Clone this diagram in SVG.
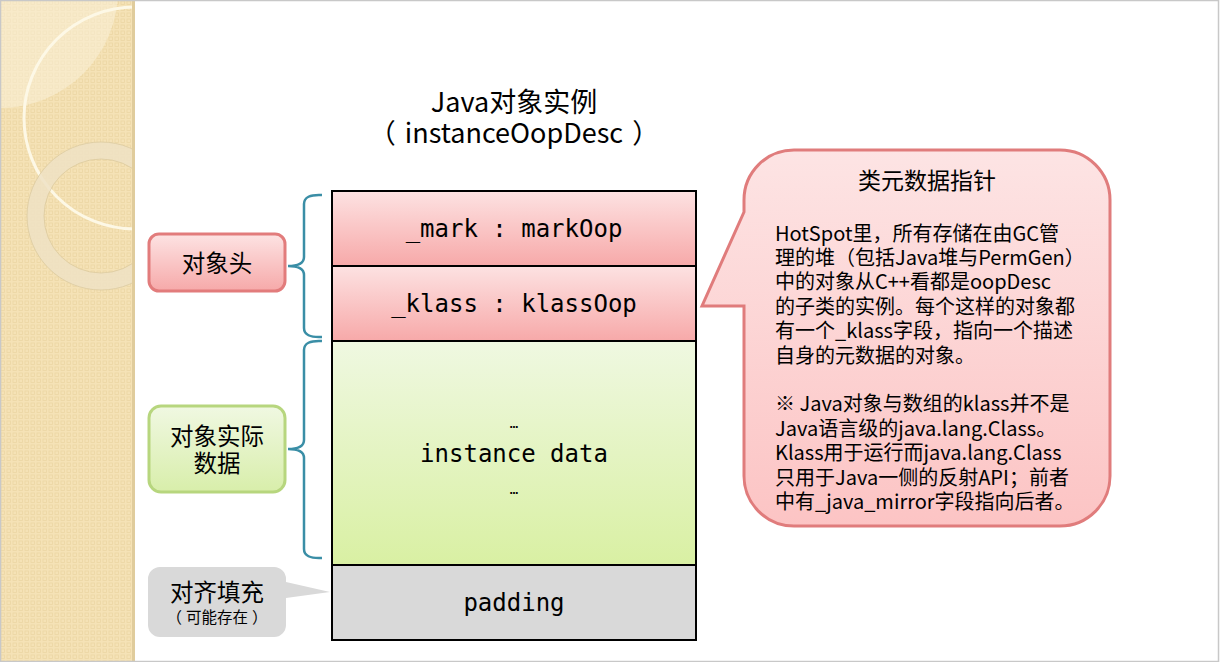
<svg xmlns="http://www.w3.org/2000/svg" width="1220" height="662" viewBox="0 0 1220 662">
<style>
.cjk{font-family:"Noto Sans CJK SC","Noto Sans",sans-serif;fill:#000}
.mono{font-family:"DejaVu Sans Mono","Liberation Mono",monospace;font-size:24px;fill:#000}
.dots{font-family:"DejaVu Sans Mono","Liberation Mono",monospace;font-size:14px;fill:#000}
.row{stroke:#000;stroke-width:2}
.brace{fill:none;stroke:#3a8ea6;stroke-width:2.5}
</style>
<defs>
<pattern id="chk" width="6" height="6" patternUnits="userSpaceOnUse">
<rect width="6" height="6" fill="#f5e2b6"/>
<rect x="1" y="1" width="3.5" height="3.5" fill="none" stroke="#ecd6a3" stroke-width="0.8"/>
</pattern>
<linearGradient id="gPink" x1="0" y1="0" x2="0" y2="1"><stop offset="0" stop-color="#fde2e2"/><stop offset="1" stop-color="#f7a9a9"/></linearGradient>
<linearGradient id="gGreen" x1="0" y1="0" x2="0" y2="1"><stop offset="0" stop-color="#eff8e1"/><stop offset="1" stop-color="#d9f0a3"/></linearGradient>
<linearGradient id="gLPink" x1="0" y1="0" x2="0" y2="1"><stop offset="0" stop-color="#fde3e3"/><stop offset="1" stop-color="#f6a9a9"/></linearGradient>
<linearGradient id="gLGreen" x1="0" y1="0" x2="0" y2="1"><stop offset="0" stop-color="#f0f8e2"/><stop offset="1" stop-color="#d8eeaa"/></linearGradient>
<linearGradient id="gCall" x1="0" y1="0" x2="0" y2="1"><stop offset="0" stop-color="#fde4e4"/><stop offset="1" stop-color="#fcc4c4"/></linearGradient>
<clipPath id="stripClip"><rect x="0" y="0" width="135" height="662"/></clipPath>
</defs>
<rect width="1220" height="662" fill="#fff"/>
<g id="strip" clip-path="url(#stripClip)">
<rect x="0" y="0" width="135" height="662" fill="url(#chk)"/>
<circle cx="0" cy="-10" r="118" fill="#faf0d8" opacity="0.55"/>
<circle cx="135" cy="118" r="111" fill="none" stroke="#fdf8e6" stroke-width="3"/>
<circle cx="101" cy="216" r="65.5" fill="none" stroke="#efe2c4" stroke-width="17" opacity="0.85"/>
<circle cx="101" cy="216" r="74" fill="none" stroke="#dccaa0" stroke-width="0.8"/>
<circle cx="101" cy="216" r="57" fill="none" stroke="#dccaa0" stroke-width="0.8"/>
<rect x="132" y="0" width="3" height="662" fill="#e0cc9c"/>
</g>
<rect x="0.5" y="0.5" width="1218" height="661" fill="none" stroke="#c8c8c8" stroke-width="1.5"/>
<g id="title">
<text class="cjk" x="514" y="112" font-size="27" text-anchor="middle">Java对象实例</text>
<text class="cjk" x="514" y="143" font-size="27" text-anchor="middle">（<tspan dx="9">instanceOopDesc</tspan><tspan dx="9">）</tspan></text>
</g>
<g id="mark">
<rect class="row" x="332" y="191" width="364" height="75" fill="url(#gPink)"/>
<text class="mono" x="514" y="237" text-anchor="middle">_mark : markOop</text>
</g>
<g id="klass">
<rect class="row" x="332" y="266" width="364" height="75" fill="url(#gPink)"/>
<text class="mono" x="514" y="312" text-anchor="middle">_klass : klassOop</text>
</g>
<g id="instance">
<rect class="row" x="332" y="341" width="364" height="224" fill="url(#gGreen)"/>
<text class="dots" x="514" y="428" text-anchor="middle">…</text>
<text class="mono" x="514" y="462" text-anchor="middle">instance data</text>
<text class="dots" x="514" y="494" text-anchor="middle">…</text>
</g>
<g id="padding">
<rect class="row" x="332" y="565" width="364" height="75" fill="#d9d9d9"/>
<text class="mono" x="514" y="611" text-anchor="middle">padding</text>
</g>
<g id="connectors">
<path class="brace" d="M322,195 Q304,194 304,204 L304,257 Q304,266 288,266 Q304,266 304,275 L304,328 Q304,338 322,337"/>
<path class="brace" d="M322,341 Q304,340 304,350 L304,440 Q304,449 288,449 Q304,449 304,458 L304,549 Q304,559 322,558"/>
</g>
<g id="label-header">
<rect x="149" y="234" width="136" height="57" rx="10" fill="url(#gLPink)" stroke="#e27c7c" stroke-width="3"/>
<text class="cjk" x="217" y="272" font-size="23.5" text-anchor="middle">对象头</text>
</g>
<g id="label-data">
<rect x="149" y="406" width="136" height="86" rx="12" fill="url(#gLGreen)" stroke="#b7d67e" stroke-width="3"/>
<text class="cjk" x="217" y="445" font-size="23.5" text-anchor="middle">对象实际</text>
<text class="cjk" x="217" y="472" font-size="23.5" text-anchor="middle">数据</text>
</g>
<g id="label-padding">
<path d="M160,567 H274 A12,12 0 0 1 286,579 V582 L330,592 L286,598 V625 A12,12 0 0 1 274,637 H160 A12,12 0 0 1 148,625 V579 A12,12 0 0 1 160,567 Z" fill="#d9d9d9"/>
<text class="cjk" x="217" y="601" font-size="23.5" text-anchor="middle">对齐填充</text>
<text class="cjk" x="217" y="623" font-size="15.5" text-anchor="middle">（<tspan dx="4">可能存在</tspan><tspan dx="4">）</tspan></text>
</g>
<g id="callout">
<path d="M794,150 H1060 A50,50 0 0 1 1110,200 V476 A50,50 0 0 1 1060,526 H794 A50,50 0 0 1 744,476 V306 L702,306 L744,212 V200 A50,50 0 0 1 794,150 Z" fill="url(#gCall)" stroke="#e07c7c" stroke-width="3"/>
<text class="cjk" x="927" y="189" font-size="23" text-anchor="middle">类元数据指针</text>
<g class="cjk" font-size="20">
<text x="775" y="240.6">HotSpot里，所有存储在由GC管</text>
<text x="775" y="265">理的堆（包括Java堆与PermGen）</text>
<text x="775" y="289.4">中的对象从C++看都是oopDesc</text>
<text x="775" y="313.8">的子类的实例。每个这样的对象都</text>
<text x="775" y="338.2">有一个_klass字段，指向一个描述</text>
<text x="775" y="362.6">自身的元数据的对象。</text>
<text x="775" y="411.4">※ Java对象与数组的klass并不是</text>
<text x="775" y="435.8">Java语言级的java.lang.Class。</text>
<text x="775" y="460.2">Klass用于运行而java.lang.Class</text>
<text x="775" y="484.6">只用于Java一侧的反射API；前者</text>
<text x="775" y="509">中有_java_mirror字段指向后者。</text>
</g>
</g>
</svg>
